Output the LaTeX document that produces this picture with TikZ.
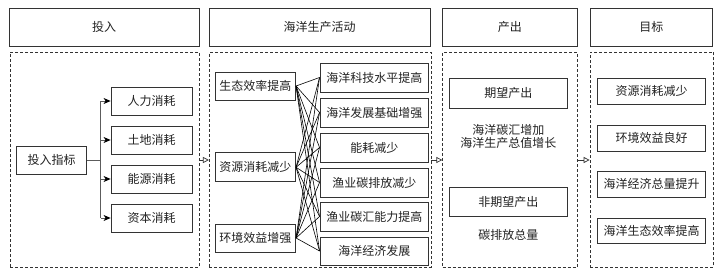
\documentclass[tikz,border=0pt]{standalone}
\usepackage{fontspec}
\setmainfont{Noto Sans CJK SC}
\usetikzlibrary{arrows.meta}
\definecolor{linec}{HTML}{333333}
\definecolor{textc}{HTML}{222222}
\tikzset{
  box/.style={draw=linec, line width=0.8pt, fill=white, rectangle, inner sep=0pt,
    text=textc, font=\fontsize{12}{14}\selectfont},
  dashbox/.style={draw=linec, line width=0.7pt, dash pattern=on 3pt off 2pt, rectangle, inner sep=0pt},
  plain/.style={text=textc, font=\fontsize{12}{14}\selectfont, inner sep=0pt},
  link/.style={draw=black, line width=0.6pt},
  branch/.style={draw=linec!80, line width=0.8pt},
  bararrow/.style={draw=linec, line width=0.7pt, -{Triangle[open,length=6pt,width=6pt]}},
}
\begin{document}
\begin{tikzpicture}[x=1pt,y=-1pt]
\useasboundingbox (0,0) rectangle (720,275);
% column 1
\node[box, minimum width=190pt, minimum height=38pt] (h1) at (104,27) {投入};
\node[dashbox, minimum width=189pt, minimum height=215pt] (d1) at (104.5,159.5) {};
\node[box, minimum width=70pt, minimum height=28pt] (in) at (51.6,160) {投入指标};
\node[box, minimum width=81pt, minimum height=28pt] (a1) at (151.5,101) {人力消耗};
\node[box, minimum width=81pt, minimum height=28pt] (a2) at (151.5,140) {土地消耗};
\node[box, minimum width=81pt, minimum height=28pt] (a3) at (151.5,179) {能源消耗};
\node[box, minimum width=81pt, minimum height=28pt] (a4) at (151.5,218) {资本消耗};
\coordinate (tr) at (100.7,160);
\draw[branch] (in.east) -- (tr);
\draw[branch] (tr |- a1.west) -- (tr |- a4.west);
\foreach \n in {a1,a2,a3,a4}{
  \draw[branch, -{Stealth[length=7pt,width=6pt,inset=2pt,black]}] (tr |- \n.west) -- (\n.west);
}
% column 2
\node[box, minimum width=221pt, minimum height=38pt] (h2) at (319.5,27) {海洋生产活动};
\node[dashbox, minimum width=221.7pt, minimum height=215pt] (d2) at (320.15,159.5) {};
\node[box, minimum width=80.7pt, minimum height=28pt] (l1) at (255.3,86) {生态效率提高};
\node[box, minimum width=80.7pt, minimum height=29pt] (l2) at (255.3,167.3) {资源消耗减少};
\node[box, minimum width=80.7pt, minimum height=28pt] (l3) at (255.3,238) {环境效益增强};
\node[box, minimum width=108.7pt, minimum height=29pt] (r1) at (374.3,77.5) {海洋科技水平提高};
\node[box, minimum width=108.7pt, minimum height=29pt] (r2) at (374.3,112.5) {海洋发展基础增强};
\node[box, minimum width=108.7pt, minimum height=29pt] (r3) at (374.3,147.5) {能耗减少};
\node[box, minimum width=108.7pt, minimum height=29pt] (r4) at (374.3,182.5) {渔业碳排放减少};
\node[box, minimum width=108.7pt, minimum height=29pt] (r5) at (374.3,216.5) {渔业碳汇能力提高};
\node[box, minimum width=108.7pt, minimum height=28pt] (r6) at (374.3,251) {海洋经济发展};
\foreach \l in {l1,l2,l3}{
  \foreach \r in {r1,r2,r3,r4,r5,r6}{
    \draw[link] (\l.east) -- (\r.west);
  }
}
% column 3
\node[box, minimum width=134.3pt, minimum height=38pt] (h3) at (509.85,27) {产出};
\node[dashbox, minimum width=134.6pt, minimum height=215pt] (d3) at (510,159.5) {};
\node[box, minimum width=118.7pt, minimum height=30pt] (o1) at (508.3,93) {期望产出};
\node[plain, align=center] (t1) at (508.3,136.5) {海洋碳汇增加\\[-1.5pt]海洋生产总值增长};
\node[box, minimum width=118.7pt, minimum height=29pt] (o2) at (508.3,201.5) {非期望产出};
\node[plain] (t2) at (508.3,235) {碳排放总量};
% column 4
\node[box, minimum width=122.7pt, minimum height=38pt] (h4) at (651.35,27) {目标};
\node[dashbox, minimum width=123.3pt, minimum height=215pt] (d4) at (651.65,159.5) {};
\node[box, minimum width=108pt, minimum height=26pt] (g1) at (651.7,91) {资源消耗减少};
\node[box, minimum width=108pt, minimum height=26pt] (g2) at (651.7,138) {环境效益良好};
\node[box, minimum width=108pt, minimum height=26pt] (g3) at (651.7,184) {海洋经济总量提升};
\node[box, minimum width=108pt, minimum height=25pt] (g4) at (651.7,230.5) {海洋生态效率提高};
% arrows between columns
\draw[bararrow] (d1.east |- 0,160) -- (d2.west |- 0,160);
\draw[bararrow] (d2.east |- 0,160) -- (d3.west |- 0,160);
\draw[bararrow] (d3.east |- 0,160) -- (d4.west |- 0,160);
\end{tikzpicture}
\end{document}
